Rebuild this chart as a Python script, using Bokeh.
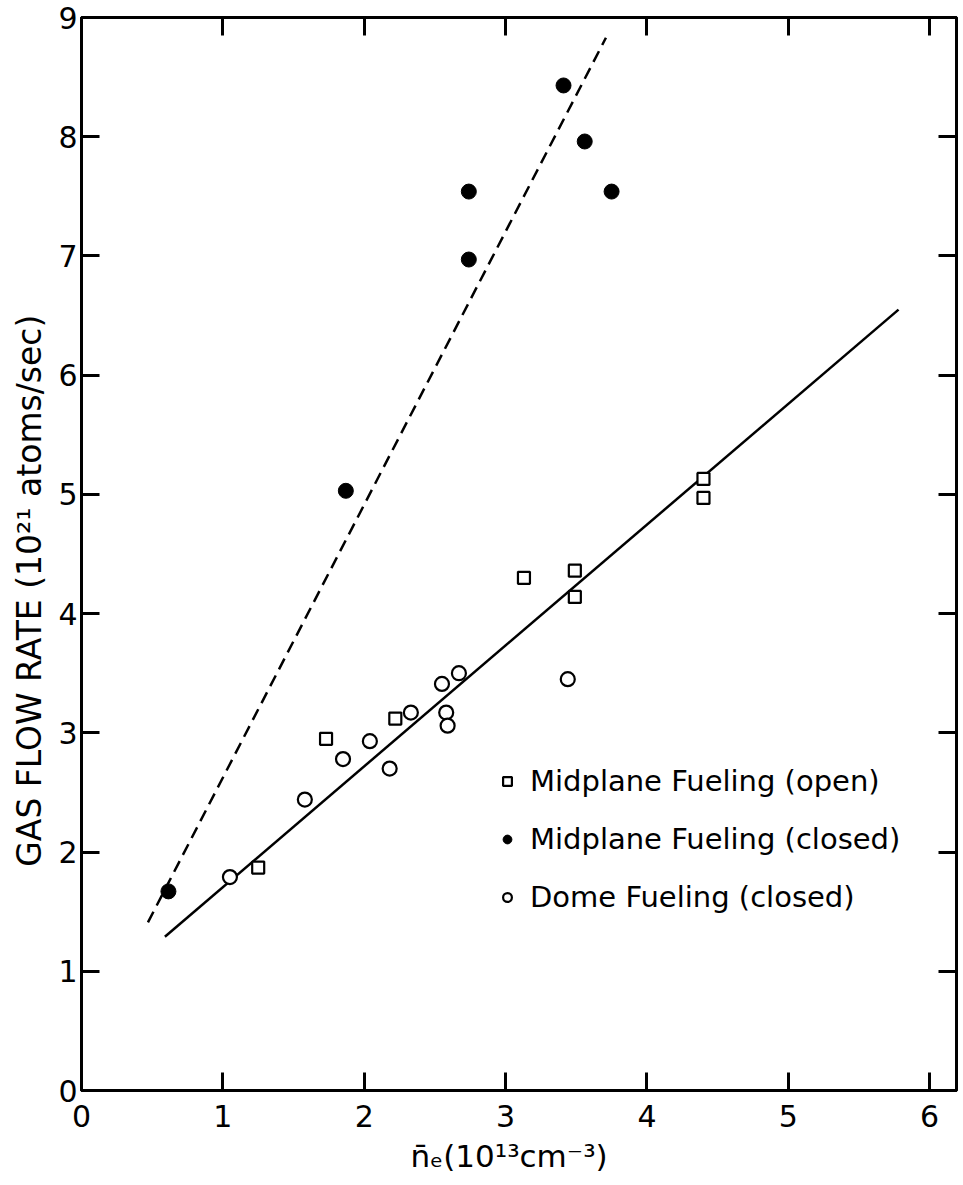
from bokeh.plotting import figure
from bokeh.models import Range1d, LinearAxis, Legend, LegendItem, FixedTicker
from bokeh.embed import file_html
from bokeh.resources import INLINE

# ---- data ----
open_x = [1.25, 1.73, 2.22, 3.13, 3.49, 3.49, 4.40, 4.40]
open_y = [1.87, 2.95, 3.12, 4.30, 4.36, 4.14, 5.13, 4.97]

closed_x = [0.615, 1.87, 2.74, 2.74, 3.41, 3.56, 3.75]
closed_y = [1.67, 5.03, 6.97, 7.54, 8.43, 7.96, 7.54]

dome_x = [1.05, 1.58, 1.85, 2.04, 2.18, 2.33, 2.55, 2.67, 2.58, 2.59, 3.44]
dome_y = [1.79, 2.44, 2.78, 2.93, 2.70, 3.17, 3.41, 3.50, 3.17, 3.06, 3.45]

dash_fit_x = [0.47, 3.71]
dash_fit_y = [1.41, 8.83]
solid_fit_x = [0.59, 5.78]
solid_fit_y = [1.29, 6.55]

x_ticks = [0, 1, 2, 3, 4, 5, 6]
y_ticks = [0, 1, 2, 3, 4, 5, 6, 7, 8, 9]

labels = ["Midplane Fueling (open)", "Midplane Fueling (closed)", "Dome Fueling (closed)"]
x_title = "n\u0304\u2091(10\u00b9\u00b3cm\u207b\u00b3)"
y_title = "GAS FLOW RATE (10\u00b2\u00b9 atoms/sec)"

FONT = "DejaVu Sans"
NBSP = "\u00a0"

p = figure(width=959, height=1185,
           x_range=Range1d(0, 6.19), y_range=Range1d(0, 9.0),
           output_backend="svg", toolbar_location=None,
           min_border_left=81, min_border_right=3, min_border_top=17, min_border_bottom=95,
           x_axis_label=x_title + NBSP * 2,
           y_axis_label=y_title + NBSP * 7)
p.grid.visible = False
p.outline_line_color = "black"
p.outline_line_width = 3
p.background_fill_color = "white"
p.border_fill_color = "white"

def style_axis(ax, ticks, show_labels=True):
    ax.ticker = FixedTicker(ticks=ticks)
    ax.axis_line_width = 3
    ax.axis_line_color = "black"
    ax.major_tick_in = 18
    ax.major_tick_out = 0
    ax.major_tick_line_width = 3
    ax.minor_tick_in = 0
    ax.minor_tick_out = 0
    ax.major_label_text_font = FONT
    if show_labels:
        ax.major_label_text_font_size = "30px"
        ax.major_label_text_color = "black"
    else:
        ax.major_label_text_font_size = "1px"
        ax.major_label_text_color = None
        ax.major_label_standoff = 0
    ax.axis_label_text_font = FONT
    ax.axis_label_text_font_style = "normal"
    ax.axis_label_text_color = "black"

style_axis(p.xaxis[0], x_ticks)
style_axis(p.yaxis[0], y_ticks)
p.xaxis[0].major_label_standoff = 14
p.xaxis[0].axis_label_standoff = 8
p.xaxis[0].axis_label_text_font_size = "31px"
p.yaxis[0].major_label_standoff = 4
p.yaxis[0].axis_label_standoff = 6
p.yaxis[0].axis_label_text_font_size = "33px"

right_ax = LinearAxis()
style_axis(right_ax, y_ticks, show_labels=False)
p.add_layout(right_ax, "right")
top_ax = LinearAxis()
style_axis(top_ax, x_ticks, show_labels=False)
p.add_layout(top_ax, "above")

# fit lines
p.line(dash_fit_x, dash_fit_y, line_color="black", line_width=2.5, line_dash="12 7")
p.line(solid_fit_x, solid_fit_y, line_color="black", line_width=2.5)

# points
r_open = p.scatter(open_x, open_y, marker="square", size=12, fill_color="white",
                   line_color="black", line_width=2.2)
r_closed = p.scatter(closed_x, closed_y, marker="circle", size=15, fill_color="black",
                     line_color="black", line_width=1)
r_dome = p.scatter(dome_x, dome_y, marker="circle", size=14, fill_color="white",
                   line_color="black", line_width=2.2)

legend = Legend(items=[LegendItem(label=labels[0], renderers=[r_open]),
                       LegendItem(label=labels[1], renderers=[r_closed]),
                       LegendItem(label=labels[2], renderers=[r_dome])],
                location=(415, 176))
legend.label_text_font = FONT
legend.label_text_font_size = "29px"
legend.label_text_color = "black"
legend.glyph_width = 22
legend.glyph_height = 22
legend.label_height = 30
legend.spacing = 24
legend.label_standoff = 12
legend.padding = 0
legend.margin = 0
legend.border_line_color = None
legend.background_fill_alpha = 0
p.add_layout(legend)

open("out.html", "w").write(file_html(p, INLINE))
